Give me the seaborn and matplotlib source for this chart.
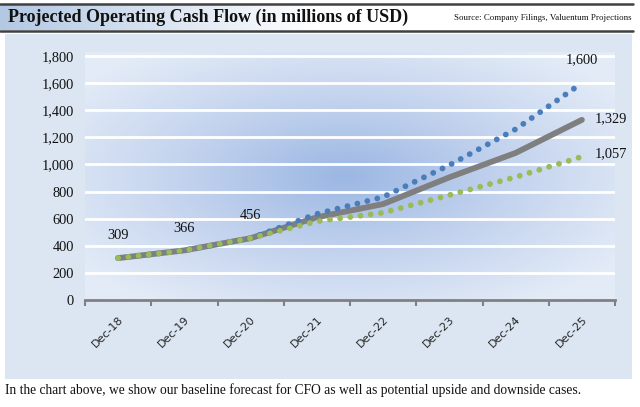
import numpy as np
import pandas as pd
import matplotlib
matplotlib.use("Agg")
import matplotlib.pyplot as plt
import seaborn as sns
from matplotlib.patches import Rectangle
from matplotlib.colors import LinearSegmentedColormap

categories = ['Dec-18', 'Dec-19', 'Dec-20', 'Dec-21', 'Dec-22', 'Dec-23', 'Dec-24', 'Dec-25']
baseline = [309, 366, 456, 610, 708, 905, 1085, 1329]
upside = [309, 366, 456, 635, 760, 995, 1260, 1600]
downside = [309, 366, 456, 580, 644, 774, 907, 1057]
yticks = [0, 200, 400, 600, 800, 1000, 1200, 1400, 1600, 1800]
labels_hist = ['309', '366', '456']

sns.set_theme(style="white")
plt.rcParams['font.family'] = ['Liberation Serif', 'DejaVu Serif']

W, H = 640, 407
fig = plt.figure(figsize=(6.4, 4.07), dpi=100)
fig.patch.set_facecolor('white')

def fx(px):
    return px / W

def fy(py):
    return 1 - py / H

# Title bar gradient
tb = fig.add_axes([0, fy(30), fx(633), (30 - 4) / H])
tb.set_axis_off()
grad = np.linspace(0, 1, 400).reshape(1, -1)
cmap_tb = LinearSegmentedColormap.from_list('tb', ['#b3c8e3', '#ffffff'])
tb.imshow(np.clip(grad * 2.0, 0, 1), aspect='auto', cmap=cmap_tb, extent=[0, 1, 0, 1])
tb.set_xlim(0, 1); tb.set_ylim(0, 1)

fig.add_artist(plt.Line2D([0, fx(633)], [fy(4), fy(4)], color='#404040', lw=1.8))
fig.add_artist(plt.Line2D([0, fx(633)], [fy(30.5), fy(30.5)], color='#404040', lw=1.8))
fig.text(fx(8), fy(17.5), 'Projected Operating Cash Flow (in millions of USD)',
         fontsize=13, fontweight='bold', va='center', ha='left', color='#111111')
fig.text(fx(632), fy(18.5), 'Source: Company Filings, Valuentum Projections',
         fontsize=6.4, va='center', ha='right', color='#111111')

# Chart panel
fig.add_artist(Rectangle((fx(5), fy(379)), fx(632) - fx(5), fy(34) - fy(379),
                         transform=fig.transFigure, facecolor='#dce6f2', edgecolor='none', zorder=0))

# Axes
ax = fig.add_axes([fx(85), fy(300), fx(615) - fx(85), fy(52) - fy(300)])
ax.set_facecolor('none')
ytop = 1800 * 248 / 244

# radial gradient background
n = 300
xx, yy = np.meshgrid(np.linspace(0, 1, n), np.linspace(0, 1, n))
d = np.sqrt(((xx - 0.49) / 0.62) ** 2 + ((yy - 0.5) / 0.62) ** 2)
d = np.clip(d, 0, 1)
cmap_bg = LinearSegmentedColormap.from_list('bg', ['#9bb7e3', '#c3d3ee', '#e3ebf7'])
ax.imshow(d, cmap=cmap_bg, extent=[-0.5, 7.5, 0, ytop], aspect='auto',
          origin='lower', zorder=0, vmin=0, vmax=1)

df = pd.DataFrame({'cat': categories, 'x': np.arange(len(categories)),
                   'Baseline': baseline, 'Upside': upside, 'Downside': downside})

for yv in yticks[1:]:
    ax.axhline(yv, color='white', lw=2, zorder=1)

sns.lineplot(data=df, x='x', y='Baseline', ax=ax, color='#7f7f7f', lw=4.2,
             solid_capstyle='round', zorder=3)
sns.lineplot(data=df, x='x', y='Upside', ax=ax, color='#4a7ebb', lw=4.2,
             linestyle=(0, (0.01, 1.75)), dash_capstyle='round', zorder=4)
sns.lineplot(data=df, x='x', y='Downside', ax=ax, color='#9bbb59', lw=4.2,
             linestyle=(0, (0.01, 1.75)), dash_capstyle='round', zorder=5)

ax.set_xlim(-0.5, 7.5)
ax.set_ylim(0, ytop)
ax.set_yticks(yticks)
ax.set_yticklabels([f'{v:,}' for v in yticks], fontsize=10.4, color='#111111')
ax.set_xticks(df['x'])
ax.set_xticklabels(categories, rotation=45, ha='right', va='top', rotation_mode='anchor',
                   fontsize=8, family=['DejaVu Sans'], color='#222222')
ax.set_xticks(np.arange(-0.5, 8, 1), minor=True)
ax.tick_params(axis='x', which='major', length=0, pad=10)
ax.tick_params(axis='x', which='minor', length=4, width=1.5, color='#808080', direction='out', bottom=True)
ax.tick_params(axis='y', length=0, pad=8)
ax.set_xlabel('')
ax.set_ylabel('')
for s in ['top', 'right', 'left']:
    ax.spines[s].set_visible(False)
ax.spines['bottom'].set_color('#808080')
ax.spines['bottom'].set_linewidth(2)
ax.spines['bottom'].set_zorder(6)

# data labels
for i, t in enumerate(labels_hist):
    ax.annotate(t, (i, baseline[i]), xytext=(0, 16), textcoords='offset points',
                ha='center', va='center', fontsize=10.4, color='#111111')
ax.annotate(f'{upside[-1]:,}', (7, upside[-1]), xytext=(0, 17), textcoords='offset points',
            ha='center', va='center', fontsize=10.4, color='#111111', annotation_clip=False)
ax.annotate(f'{baseline[-1]:,}', (7, baseline[-1]), xytext=(9, 1), textcoords='offset points',
            ha='left', va='center', fontsize=10.4, color='#111111', annotation_clip=False)
ax.annotate(f'{downside[-1]:,}', (7, downside[-1]), xytext=(9, 2), textcoords='offset points',
            ha='left', va='center', fontsize=10.4, color='#111111', annotation_clip=False)

fig.text(fx(5), fy(390), 'In the chart above, we show our baseline forecast for CFO as well as potential upside and downside cases.',
         fontsize=9.75, va='center', ha='left', color='#111111')

fig.savefig('out.png', dpi=100)
